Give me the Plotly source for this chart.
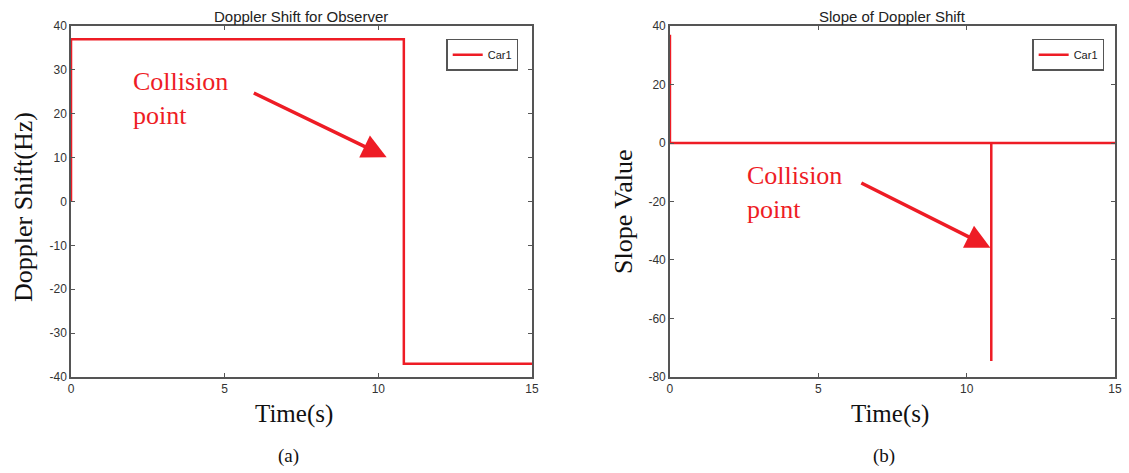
import plotly.graph_objects as go
from plotly.subplots import make_subplots

# Doppler shift seen by the observer (Hz) over time (s)
t_shift = [0, 0, 10.83, 10.83, 15]
doppler_shift = [0, 37, 37, -37, -37]

# Slope of the Doppler shift over time
t_slope = [0, 0, 10.83, 10.83, 10.83, 15]
slope_value = [37, 0, 0, -74.5, 0, 0]

x_ticks = [0, 5, 10, 15]
y_ticks_shift = [40, 30, 20, 10, 0, -10, -20, -30, -40]
y_ticks_slope = [40, 20, 0, -20, -40, -60, -80]

RED = "#ee1c25"
FRAME = "#555555"
SANS = "Liberation Sans, Arial, sans-serif"
SERIF = "Liberation Serif, Times New Roman, serif"

fig = make_subplots(rows=1, cols=2)

fig.add_trace(go.Scatter(x=t_shift, y=doppler_shift, mode="lines", name="Car1",
                         line=dict(color=RED, width=2.5), legend="legend", showlegend=True),
              row=1, col=1)
fig.add_trace(go.Scatter(x=t_slope, y=slope_value, mode="lines", name="Car1",
                         line=dict(color=RED, width=2.5), legend="legend2", showlegend=True),
              row=1, col=2)

ydom = [0.203, 0.945]
axis_style = dict(showline=True, linecolor=FRAME, linewidth=1.5, mirror="ticks",
                  ticks="inside", ticklen=4, tickcolor=FRAME, tickwidth=1,
                  showgrid=False, zeroline=False, automargin=False,
                  tickfont=dict(family=SANS, size=12, color="#333333"))


def labels(vals):
    return [str(v) for v in vals]


fig.update_xaxes(domain=[0.0629, 0.4712], range=[0, 15], tickvals=x_ticks,
                 ticktext=labels(x_ticks), row=1, col=1, **axis_style)
fig.update_xaxes(domain=[0.5934, 0.9876], range=[0, 15], tickvals=x_ticks,
                 ticktext=labels(x_ticks), row=1, col=2, **axis_style)
fig.update_yaxes(domain=ydom, range=[-40, 40], tickvals=y_ticks_shift,
                 ticktext=labels(y_ticks_shift), row=1, col=1, **axis_style)
fig.update_yaxes(domain=ydom, range=[-80, 40], tickvals=y_ticks_slope,
                 ticktext=labels(y_ticks_slope), row=1, col=2, **axis_style)

legend_style = dict(bgcolor="white", bordercolor=FRAME, borderwidth=1.5,
                    font=dict(family=SANS, size=11, color="#222222"),
                    xanchor="right", yanchor="top", tracegroupgap=0,
                    itemwidth=30, visible=True)
fig.update_layout(
    showlegend=True,
    legend=dict(x=0.459, y=0.918, **legend_style),
    legend2=dict(x=0.978, y=0.918, **legend_style),
)


def paper_text(text, px, py, size, family, angle=0, color="#111111"):
    return dict(text=text, x=px / 1129, y=1 - py / 473, xref="paper", yref="paper",
                xanchor="center", yanchor="middle", textangle=angle, showarrow=False,
                font=dict(family=family, size=size, color=color))


ann = [
    # panel titles
    paper_text("Doppler Shift for Observer", 301, 17, 15, SANS, color="#222222"),
    paper_text("Slope of Doppler Shift", 892, 17, 15, SANS, color="#222222"),
    # axis titles
    paper_text("Doppler Shift(Hz)", 23, 207, 26, SERIF, angle=-90),
    paper_text("Slope Value", 624, 212, 26, SERIF, angle=-90),
    paper_text("Time(s)", 294, 414, 25, SERIF),
    paper_text("Time(s)", 890, 414, 25, SERIF),
    # subfigure labels
    paper_text("(a)", 288, 456, 19, SERIF),
    paper_text("(b)", 884, 456, 19, SERIF),
]

# collision labels and arrows
ann.append(dict(text="Collision<br>point", x=1.94, y=23.5, xref="x", yref="y",
                xanchor="left", yanchor="middle", align="left", showarrow=False,
                font=dict(family=SERIF, size=26, color=RED)))
ann.append(dict(text="", x=10.27, y=10.1, ax=5.9, ay=24.9, xref="x", yref="y",
                axref="x", ayref="y", showarrow=True, arrowhead=2, arrowsize=1.4,
                arrowwidth=3.5, arrowcolor=RED))
ann.append(dict(text="Collision<br>point", x=2.52, y=-16.8, xref="x2", yref="y2",
                xanchor="left", yanchor="middle", align="left", showarrow=False,
                font=dict(family=SERIF, size=26, color=RED)))
ann.append(dict(text="", x=10.8, y=-35.8, ax=6.4, ay=-13.4, xref="x2", yref="y2",
                axref="x2", ayref="y2", showarrow=True, arrowhead=2, arrowsize=1.4,
                arrowwidth=3.5, arrowcolor=RED))

fig.update_layout(
    width=1129, height=473,
    margin=dict(l=0, r=0, t=0, b=0, autoexpand=False),
    paper_bgcolor="white", plot_bgcolor="white",
    annotations=ann,
)

fig.write_html("out.html")
